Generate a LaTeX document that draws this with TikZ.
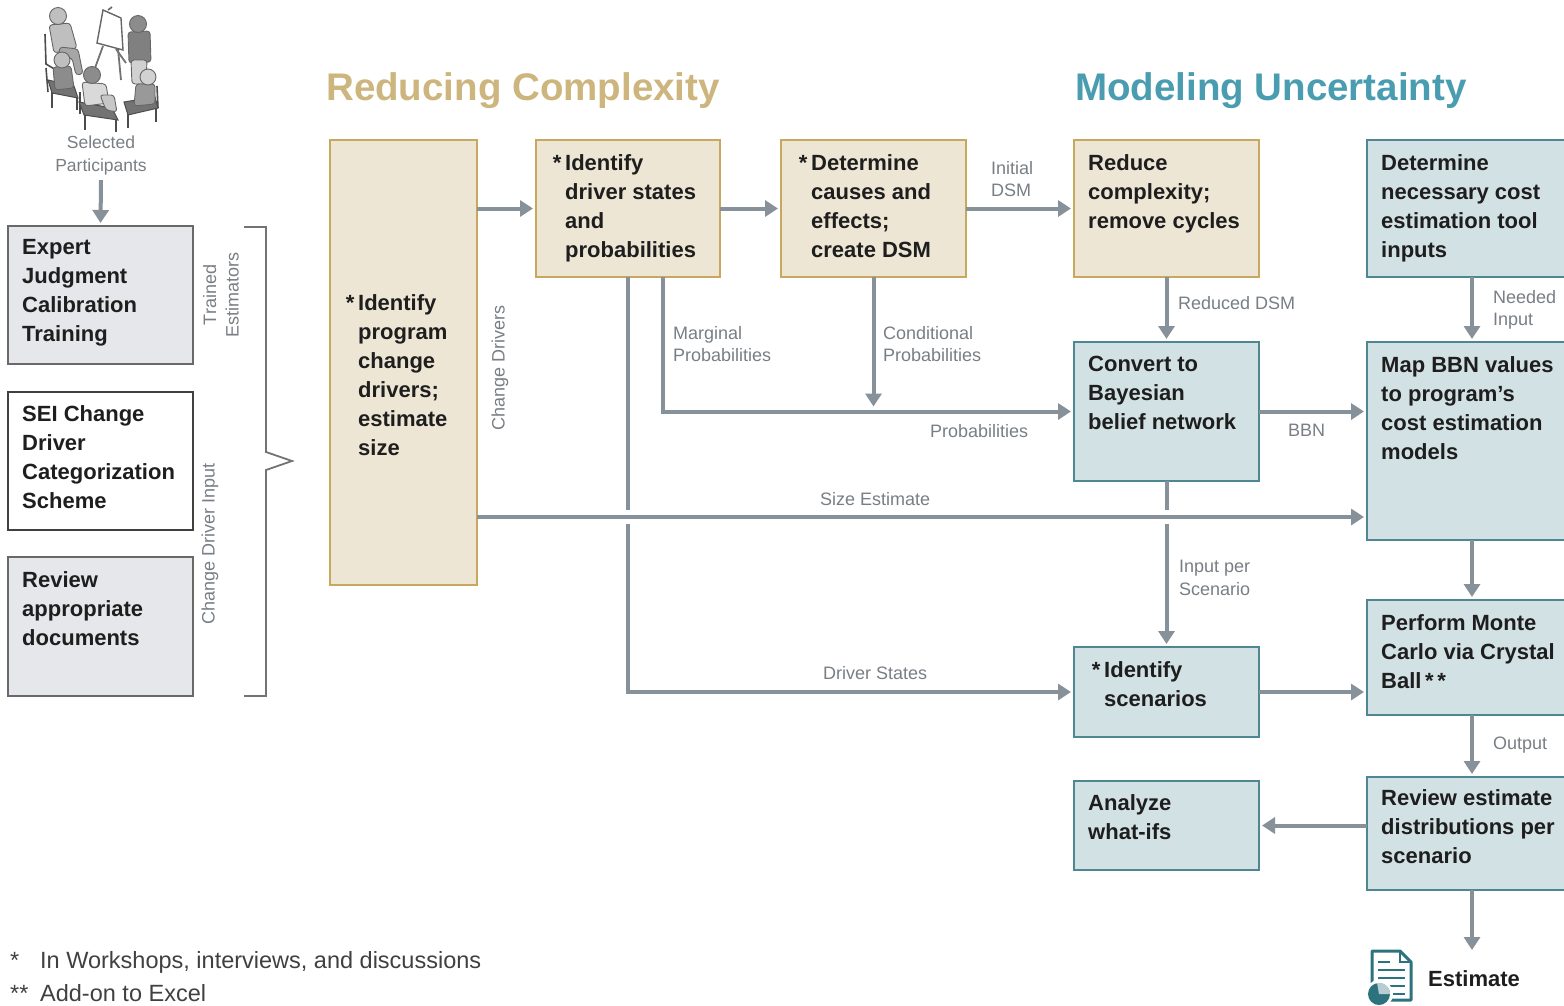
\documentclass[tikz,border=0pt]{standalone}
\usepackage{fontspec}
\setmainfont{Liberation Sans}
\usetikzlibrary{arrows.meta,calc}
\definecolor{tanfill}{RGB}{237,230,212}
\definecolor{tanline}{RGB}{200,168,95}
\definecolor{tealfill}{RGB}{210,225,228}
\definecolor{tealline}{RGB}{78,135,145}
\definecolor{greyfill}{RGB}{229,231,234}
\definecolor{greyline}{RGB}{105,105,105}
\definecolor{arrgrey}{RGB}{135,145,154}
\definecolor{lblgrey}{RGB}{120,126,132}
\definecolor{textdark}{RGB}{30,30,30}
\definecolor{titletan}{RGB}{205,181,126}
\definecolor{titleteal}{RGB}{74,157,176}
\definecolor{icont}{RGB}{45,115,125}
\begin{document}
\begin{tikzpicture}[x=1pt,y=-1pt,
  box/.style={line width=1.8pt, anchor=north west, inner sep=0pt, outer sep=0pt},
  tanbox/.style={box, draw=tanline, fill=tanfill},
  tealbox/.style={box, draw=tealline, fill=tealfill},
  greybox/.style={box, draw=greyline, fill=greyfill},
  btext/.style={anchor=north west, inner sep=0pt, align=left, text=textdark,
    font=\bfseries\fontsize{22}{29}\selectfont},
  lbl/.style={anchor=north west, inner sep=0pt, align=left, text=lblgrey,
    font=\fontsize{18}{22.5}\selectfont},
  rlbl/.style={inner sep=0pt, align=center, text=lblgrey, rotate=90,
    font=\fontsize{18}{22.5}\selectfont},
  arr/.style={draw=arrgrey, line width=4pt, -{Triangle[length=13pt,width=16pt]}, shorten >=3pt},
  ln/.style={draw=arrgrey, line width=4pt},
  title/.style={anchor=north west, inner sep=0pt, font=\bfseries\fontsize{38.5}{44}\selectfont},
  person/.style={fill=black!40, draw=black!60, line width=0.9pt, rounded corners=3pt},
  head/.style={fill=black!30, draw=black!60, line width=0.9pt},
  seat/.style={fill=black!55, draw=black!70, line width=1pt},
  chair/.style={draw=black!70, line width=1.6pt},
]
\useasboundingbox (0,0) rectangle (1564,1005);
\clip (0,0) rectangle (1564,1005);

% ---------- participants icon ----------
% top-left seated person
\draw[chair] (45,34) -- (46,64) -- (56,70);
\path[person, fill=black!25] (49,25) -- (70,23) -- (77,48) -- (54,53) -- cycle;
\path[person, fill=black!35] (60,47) -- (78,49) -- (83,74) -- (76,75) -- (72,58) -- (58,57) -- cycle;
\path[head, fill=black!25] (58,16) circle[radius=8.5];
% easel
\draw[black!55, line width=1.8pt] (103,46) -- (95,68);
\draw[black!55, line width=1.8pt] (118,49) -- (121,80);
\draw[black!55, line width=1.8pt] (116,49) -- (126,63);
\path[fill=white, draw=black!60, line width=1.4pt] (103,10) -- (121,18) -- (123,50) -- (97,43) -- cycle;
\draw[black!60, line width=1.6pt] (108,10) -- (112,7);
% standing person
\path[person, fill=black!50] (128,32) -- (150,31) -- (151,62) -- (129,63) -- cycle;
\path[person, fill=black!18] (131,60) -- (147,60) -- (146,84) -- (132,84) -- cycle;
\path[head, fill=black!45] (138,24) circle[radius=8.5];
% front-left person and chair
\draw[chair] (46,68) -- (48,92);
\draw[chair] (52,92) -- (52,108);
\draw[chair] (77,98) -- (77,110);
\path[seat] (48,80) -- (74,86) -- (78,98) -- (52,93) -- cycle;
\path[person, fill=black!45] (53,67) -- (71,66) -- (74,88) -- (55,90) -- cycle;
\path[head, fill=black!25] (62,60) circle[radius=8];
% front-centre person and chair
\draw[chair] (80,92) -- (80,114);
\draw[chair] (85,114) -- (85,130);
\draw[chair] (116,120) -- (116,132);
\path[seat] (79,102) -- (112,108) -- (118,120) -- (84,115) -- cycle;
\path[person, fill=black!15] (82,82) -- (106,84) -- (109,103) -- (85,106) -- cycle;
\path[person, fill=black!22] (100,95) -- (114,95) -- (117,112) -- (106,110) -- cycle;
\path[head, fill=black!45] (92,75) circle[radius=8.5];
% front-right person and chair
\draw[chair] (157,86) -- (158,108);
\draw[chair] (128,114) -- (128,128);
\draw[chair] (156,108) -- (156,122);
\path[seat] (124,102) -- (155,97) -- (158,108) -- (128,115) -- cycle;
\path[person, fill=black!40] (136,84) -- (155,84) -- (155,104) -- (134,106) -- cycle;
\path[head, fill=black!18] (148,77) circle[radius=8];

\node[anchor=north, inner sep=0pt, align=center, text=lblgrey,
  font=\fontsize{17.5}{22.5}\selectfont] (selp) at (101,136) {Selected\\Participants};

% ---------- titles ----------
\node[title, text=titletan] (t1) at (326,72) {Reducing Complexity};
\node[title, text=titleteal] (t2) at (1075,72) {Modeling Uncertainty};

% ---------- left boxes ----------
\node[greybox, minimum width=185pt, minimum height=138pt] (exp) at (8,226) {};
\node[btext] (expt) at (22,239) {Expert\\Judgment\\Calibration\\Training};
\node[greybox, draw=black!75, fill=white, minimum width=185pt, minimum height=138pt] (sei) at (8,392) {};
\node[btext] (seit) at (22,405) {SEI Change\\Driver\\Categorization\\Scheme};
\node[greybox, minimum width=185pt, minimum height=139pt] (rvw) at (8,557) {};
\node[btext] (rvwt) at (22,571) {Review\\appropriate\\documents};

\node[rlbl] (trn) at (221,295) {Trained\\Estimators};
\node[rlbl] (cdi) at (210,544) {Change Driver Input};
\draw[draw=black!55, line width=1.8pt, line join=miter]
  (244,227) -- (266,227) -- (266,452) -- (292,461) -- (266,470) -- (266,696) -- (244,696);

% ---------- reducing complexity ----------
\node[tanbox, minimum width=147pt, minimum height=445pt] (prog) at (330,140) {};
\node[btext] (progt) at (358,294) {\llap{*\,}Identify\\program\\change\\drivers;\\estimate\\size};
\node[rlbl] (cdr) at (500,368) {Change Drivers};

\node[tanbox, minimum width=184pt, minimum height=137pt] (drv) at (536,140) {};
\node[btext] (drvt) at (565,154) {\llap{*\,}Identify\\driver states\\and\\probabilities};
\node[tanbox, minimum width=185pt, minimum height=137pt] (det) at (781,140) {};
\node[btext] (dett) at (811,154) {\llap{*\,}Determine\\causes and\\effects;\\create DSM};
\node[tanbox, minimum width=185pt, minimum height=137pt] (red) at (1074,140) {};
\node[btext] (redt) at (1088,154) {Reduce\\complexity;\\remove cycles};

% ---------- modeling uncertainty ----------
\node[tealbox, minimum width=210pt, minimum height=137pt] (dnec) at (1367,140) {};
\node[btext] (dnect) at (1381,154) {Determine\\necessary cost\\estimation tool\\inputs};
\node[tealbox, minimum width=185pt, minimum height=139pt] (conv) at (1074,342) {};
\node[btext] (convt) at (1088,356) {Convert to\\Bayesian\\belief network};
\node[tealbox, minimum width=210pt, minimum height=198pt] (map) at (1367,342) {};
\node[btext] (mapt) at (1381,356) {Map BBN values\\to program’s\\cost estimation\\models};
\node[tealbox, minimum width=185pt, minimum height=90pt] (scen) at (1074,647) {};
\node[btext] (scent) at (1104,661) {\llap{*\,}Identify\\scenarios};
\node[tealbox, minimum width=210pt, minimum height=115pt] (mc) at (1367,600) {};
\node[btext] (mct) at (1381,614) {Perform Monte\\Carlo via Crystal\\Ball\,*\,*};
\node[tealbox, minimum width=210pt, minimum height=113pt] (rev) at (1367,777) {};
\node[btext] (revt) at (1381,789) {Review estimate\\distributions per\\scenario};
\node[tealbox, minimum width=185pt, minimum height=89pt] (ana) at (1074,781) {};
\node[btext] (anat) at (1088,794) {Analyze\\what-ifs};

% ---------- connectors ----------
\coordinate (sz) at (0,517);
\draw[arr] (selp.south) ++(0,5) -- (exp.north);
\draw[arr] (prog.east |- drv.west) -- (drv.west);
\draw[arr] (drv.east) -- (det.west);
\draw[arr] (det.east) -- (red.west);
\draw[arr] (red.south) -- (conv.north);
\draw[arr] (dnec.south) -- (map.north);
\draw[arr] (conv.east) -- (map.west |- conv.east);
\draw[arr] ($(drv.south west)+(127,0)$) |- (conv.west);
\draw[arr, shorten >=5pt] (det.south) -- (det.south |- conv.west);
\coordinate (ds) at ($(drv.south west)+(92,0)$);
\draw[ln] (ds) -- ($(ds |- sz)+(0,-7)$);
\draw[arr] ($(ds |- sz)+(0,7)$) |- (scen.west);
\draw[arr] (prog.east |- sz) -- (map.west |- sz);
\draw[ln] (conv.south) -- ($(conv.south |- sz)+(0,-7)$);
\draw[arr] ($(conv.south |- sz)+(0,7)$) -- (scen.north);
\draw[arr] (scen.east) -- (mc.west |- scen.east);
\draw[arr] (map.south) -- (mc.north);
\draw[arr] (mc.south) -- (rev.north);
\draw[arr] (rev.west |- ana.east) -- (ana.east);
\coordinate (esttop) at (1472,950);
\draw[arr, shorten >=0pt] (rev.south) -- (esttop);

% ---------- connector labels ----------
\node[lbl] (l1) at (991,161) {Initial\\DSM};
\node[lbl] (l2) at (1178,296) {Reduced DSM};
\node[lbl] (l3) at (1493,290) {Needed\\Input};
\node[lbl] (l4) at (673,326) {Marginal\\Probabilities};
\node[lbl] (l5) at (883,326) {Conditional\\Probabilities};
\node[lbl] (l6) at (930,424) {Probabilities};
\node[lbl] (l7) at (1288,424) {BBN};
\node[lbl] (l8) at (820,492) {Size Estimate};
\node[lbl] (l9) at (1179,560) {Input per\\Scenario};
\node[lbl] (l10) at (823,666) {Driver States};
\node[lbl] (l11) at (1493,737) {Output};

% ---------- estimate icon ----------
\path[fill=white, draw=icont, line width=3pt, line join=round]
  (1372,951) -- (1400,951) -- (1411,962) -- (1411,1000) -- (1372,1000) -- cycle;
\draw[icont, line width=2.5pt] (1400,951) -- (1400,962) -- (1411,962);
\draw[icont, line width=2.5pt] (1378,962) -- (1390,962);
\draw[icont, line width=2.5pt] (1378,970) -- (1405,970);
\draw[icont, line width=2.5pt] (1378,978) -- (1405,978);
\draw[icont, line width=2.5pt] (1388,986) -- (1405,986);
\draw[icont, line width=2.5pt] (1392,994) -- (1405,994);
\fill[white] (1379,994) circle[radius=14];
\fill[icont] (1379,994) circle[radius=11];
\fill[icont!35] (1379,994) -- (1390,994) arc[start angle=0, end angle=-100, radius=11] -- cycle;
\node[anchor=north west, inner sep=0pt, text=textdark,
  font=\bfseries\fontsize{22}{29}\selectfont] (est) at (1428,970) {Estimate};

% ---------- footnotes ----------
\node[anchor=base west, inner sep=0pt, text=black!75, font=\fontsize{23.5}{28}\selectfont]
  (fn1) at (10,968) {\makebox[30pt][l]{*}In Workshops, interviews, and discussions};
\node[anchor=base west, inner sep=0pt, text=black!75, font=\fontsize{23.5}{28}\selectfont]
  (fn2) at (10,1001) {\makebox[30pt][l]{**}Add-on to Excel};
\end{tikzpicture}
\end{document}
